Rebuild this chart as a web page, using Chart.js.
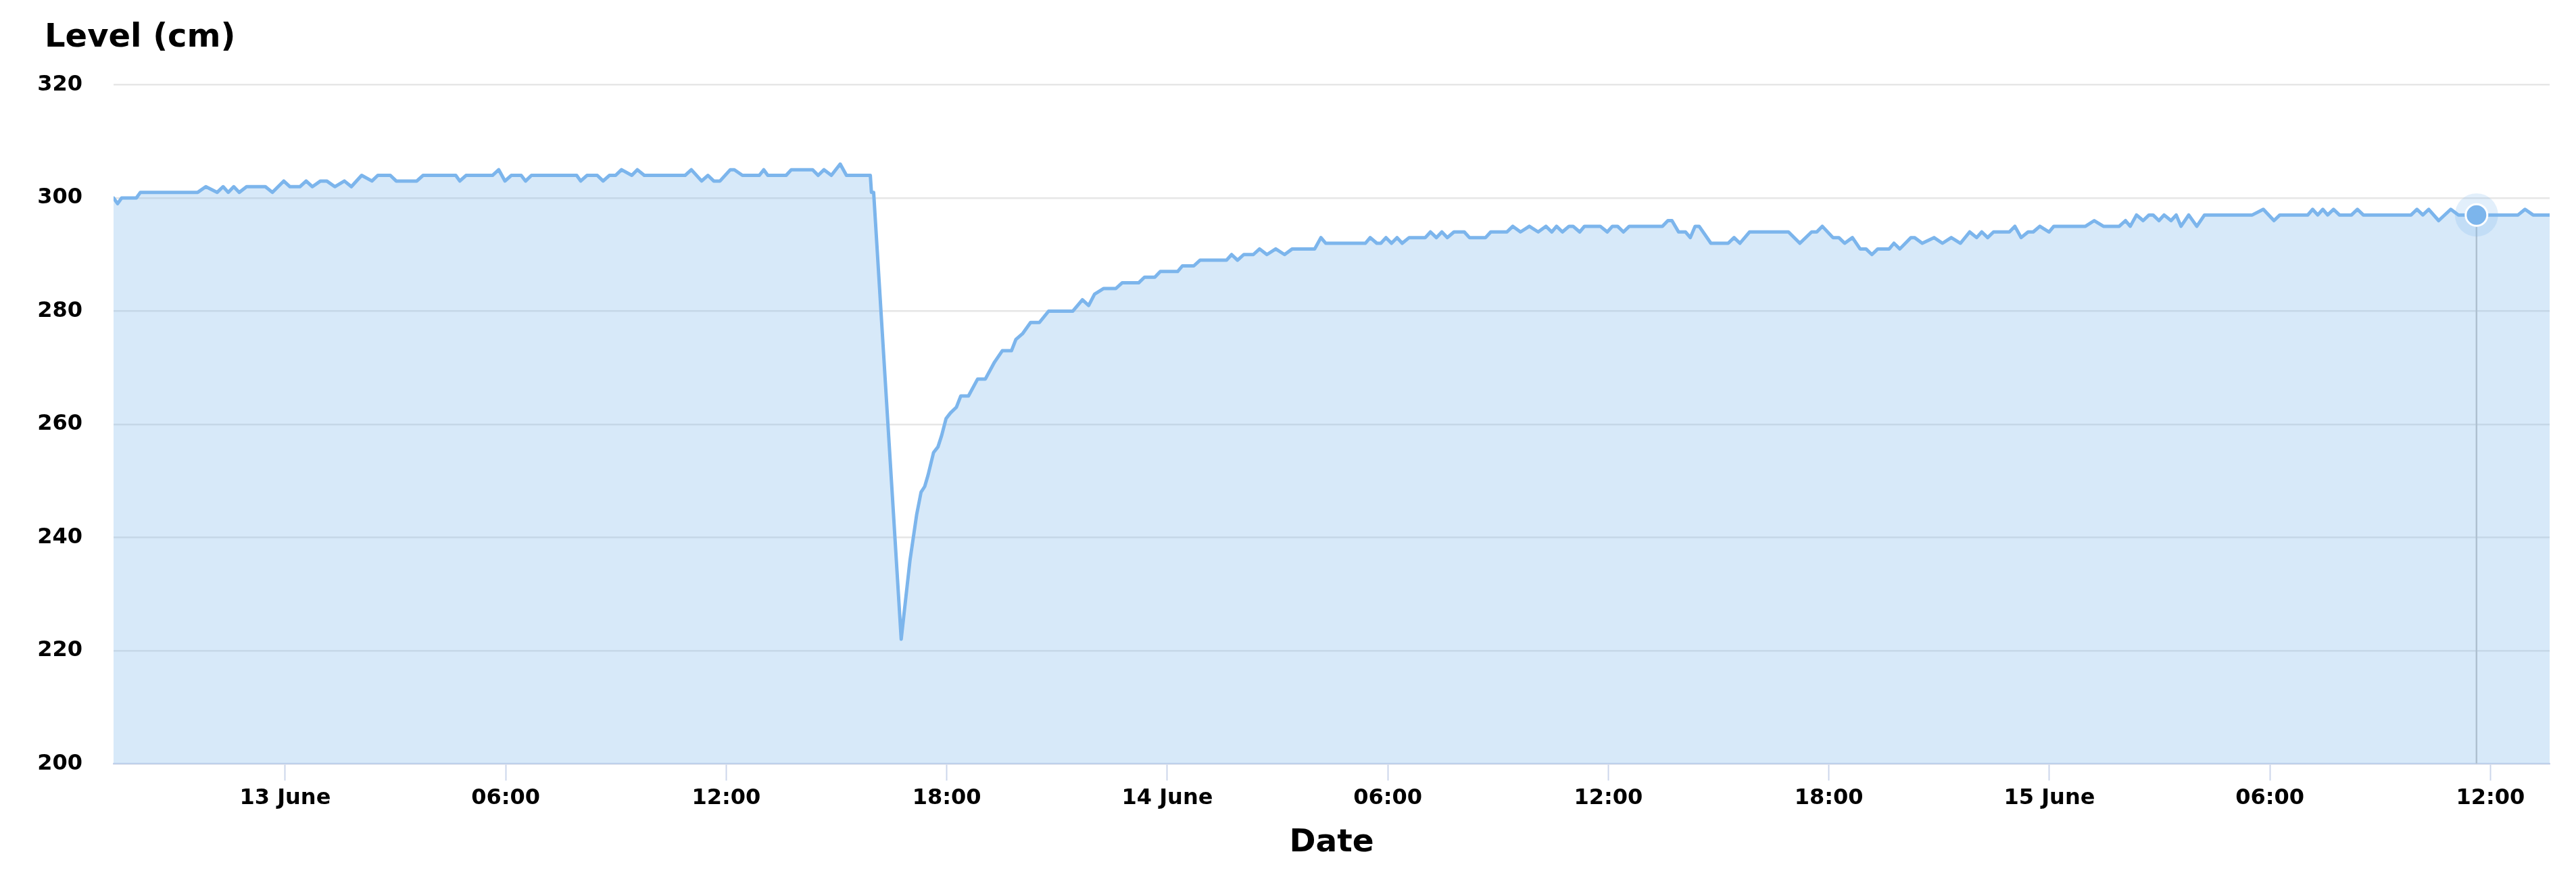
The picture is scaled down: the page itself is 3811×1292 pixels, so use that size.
<!DOCTYPE html>
<html>
<head>
<meta charset="utf-8">
<script src="https://cdn.jsdelivr.net/npm/chart.js@4.4.1/dist/chart.umd.min.js"></script>
<style>
  html, body { margin: 0; padding: 0; background: #ffffff; }
  #wrap { width: 3811px; height: 1292px; }
  canvas { display: block; }
</style>
</head>
<body>
<div id="wrap"><canvas id="chart" width="3811" height="1292" style="width:3811px;height:1292px"></canvas></div>
<script>
// Time in hours relative to 13 June 00:00
const hoursFrom13June = [
  -4.67,-4.56,-4.45,-4.05,-3.94,-2.38,-2.16,-1.85,-1.69,-1.55,-1.40,-1.25,-1.05,-0.54,-0.35,-0.04,
  0.13,0.40,0.57,0.74,0.96,1.13,1.35,1.61,1.80,2.08,2.36,2.52,2.86,3.02,3.58,3.75,4.64,4.75,4.92,
  5.64,5.81,5.98,6.15,6.42,6.54,6.70,7.93,8.04,8.21,8.49,8.65,8.82,8.99,9.15,9.43,9.58,9.77,
  10.88,11.05,11.33,11.50,11.66,11.83,12.11,12.22,12.44,12.90,13.02,13.13,13.63,13.77,14.35,14.50,
  14.66,14.86,15.10,15.27,15.92,15.95,16.01,
  16.76,17.00,17.18,17.30,17.40,17.49,17.64,17.76,17.86,17.98,18.10,18.26,18.38,18.59,18.84,19.05,
  19.30,19.51,19.76,19.88,20.06,20.28,20.52,20.77,21.43,21.69,21.86,22.02,22.27,22.60,22.77,23.22,
  23.38,23.66,23.81,24.28,24.41,24.72,24.89,25.61,25.75,25.91,26.08,26.34,26.51,26.71,26.95,27.19,
  27.40,28.01,28.18,28.31,29.39,29.52,29.70,29.81,29.95,30.10,30.25,30.39,30.58,31.02,31.16,31.32,
  31.47,31.62,31.80,32.08,32.22,32.66,32.80,33.24,33.40,33.61,33.85,34.09,34.30,34.46,34.59,34.75,
  34.93,35.04,35.22,35.35,35.78,35.97,36.11,36.25,36.41,36.57,37.47,37.62,37.73,37.91,38.10,38.23,
  38.36,38.47,38.79,39.26,39.42,39.58,39.84,40.90,41.21,41.53,41.67,41.82,42.11,42.27,42.43,42.64,
  42.85,43.01,43.17,43.33,43.64,43.77,43.93,44.23,44.33,44.54,44.86,45.09,45.33,45.58,45.83,46.02,
  46.16,46.32,46.48,46.91,47.06,47.23,47.42,47.56,47.74,47.99,48.12,48.98,49.22,49.47,49.90,50.07,
  50.20,50.37,50.55,50.71,50.82,50.98,51.12,51.31,51.45,51.58,51.79,52.01,52.22,53.52,53.82,54.11,
  54.27,55.03,55.16,55.30,55.44,55.57,55.73,55.89,56.22,56.38,56.54,57.84,58.00,58.16,58.32,58.59,
  58.92,59.13,59.62,60.10,60.75,60.94,61.16,61.61
];
// Water level in cm
const levelCm = [
  300,299,300,300,301,301,302,301,302,301,302,301,302,302,301,303,
  302,302,303,302,303,303,302,303,302,304,303,304,304,303,303,304,304,303,304,
  304,305,303,304,304,303,304,304,303,304,304,303,304,304,305,304,305,304,
  304,305,303,304,303,303,305,305,304,304,305,304,304,305,305,304,
  305,304,306,304,304,301,301,
  222,236,244,248,249,251,255,256,258,261,262,263,265,265,268,268,
  271,273,273,275,276,278,278,280,280,282,281,283,284,284,285,285,
  286,286,287,287,288,288,289,289,290,289,290,290,291,290,291,290,
  291,291,293,292,292,293,292,292,293,292,293,292,293,293,294,293,
  294,293,294,294,293,293,294,294,295,294,295,294,295,294,295,294,
  295,295,294,295,295,294,295,295,294,295,295,296,296,294,294,293,
  295,295,292,292,293,292,294,294,292,294,294,295,293,293,292,293,
  291,291,290,291,291,292,291,293,293,292,293,292,293,292,294,293,
  294,293,294,294,295,293,294,294,295,294,295,295,296,295,295,296,
  295,297,296,297,297,296,297,296,297,295,297,295,297,297,298,296,
  297,297,298,297,298,297,298,297,297,298,297,297,298,297,298,296,
  298,297,297,297,297,298,297,297
];
// Highlighted (hovered) reading
const highlightHour = [59.62];
const highlightLevel = [297];

// Axis ticks
const xTickHours = [0, 6, 12, 18, 24, 30, 36, 42, 48, 54, 60];
const xTickLabels = ['13 June', '06:00', '12:00', '18:00', '14 June', '06:00', '12:00', '18:00', '15 June', '06:00', '12:00'];
const yTickValues = [200, 220, 240, 260, 280, 300, 320];
const yTickLabels = ['200', '220', '240', '260', '280', '300', '320'];

const seriesPoints = hoursFrom13June.map((h, i) => ({ x: h, y: levelCm[i] }));
const highlightPoints = highlightHour.map((h, i) => ({ x: h, y: highlightLevel[i] }));

Chart.defaults.font.family = "'DejaVu Sans', 'Liberation Sans', sans-serif";
Chart.defaults.color = '#000000';

const crosshairPlugin = {
  id: 'crosshair',
  afterLayout(chart) {
    // place the axis heading above the tick-label column
    if (chart.titleBlock) {
      chart.titleBlock.left = chart.chartArea.left - 102;
    }
  },
  beforeDatasetsDraw(chart) {
    const meta = chart.getDatasetMeta(2);
    if (!meta || !meta.data.length) return;
    const pt = meta.data[0];
    const { ctx, chartArea } = chart;
    ctx.save();
    ctx.strokeStyle = '#c4c4c4';
    ctx.lineWidth = 2.4;
    ctx.beginPath();
    ctx.moveTo(pt.x, pt.y);
    ctx.lineTo(pt.x, chartArea.bottom);
    ctx.stroke();
    ctx.restore();
  }
};

new Chart(document.getElementById('chart'), {
  type: 'line',
  data: {
    datasets: [
      {
        label: 'Level',
        data: seriesPoints,
        borderColor: '#7cb5ec',
        borderWidth: 5,
        backgroundColor: 'rgba(124,181,236,0.30)',
        fill: 'start',
        tension: 0,
        pointRadius: 0,
        borderJoinStyle: 'round',
        borderCapStyle: 'round',
        order: 3
      },
      {
        label: 'halo',
        data: highlightPoints,
        showLine: false,
        pointRadius: 32,
        pointBackgroundColor: 'rgba(124,181,236,0.22)',
        pointBorderWidth: 0,
        pointBorderColor: 'rgba(0,0,0,0)',
        order: 2
      },
      {
        label: 'marker',
        data: highlightPoints,
        showLine: false,
        pointRadius: 16,
        pointBackgroundColor: '#7cb5ec',
        pointBorderColor: '#ffffff',
        pointBorderWidth: 3,
        order: 1
      }
    ]
  },
  options: {
    responsive: false,
    maintainAspectRatio: false,
    devicePixelRatio: 1,
    animation: false,
    events: [],
    layout: { padding: { left: 50, right: 39, top: 0, bottom: 16 } },
    plugins: {
      legend: { display: false },
      tooltip: { enabled: false },
      title: {
        display: true,
        text: 'Level (cm)',
        align: 'start',
        color: '#000000',
        font: { size: 48, weight: 'bold' },
        padding: { top: 28, bottom: 40 }
      }
    },
    scales: {
      x: {
        type: 'linear',
        min: hoursFrom13June[0],
        max: hoursFrom13June[hoursFrom13June.length - 1],
        afterBuildTicks(scale) {
          scale.ticks = xTickHours.map(v => ({ value: v }));
        },
        ticks: {
          autoSkip: false,
          maxRotation: 0,
          minRotation: 0,
          padding: 7,
          color: '#000000',
          font: { size: 32, weight: 'bold' },
          callback: (value, index) => xTickLabels[index]
        },
        grid: {
          drawOnChartArea: false,
          drawTicks: true,
          tickLength: 25,
          tickColor: '#ccd6eb',
          tickWidth: 2
        },
        border: { display: true, color: '#ccd6eb', width: 2.4 },
        title: {
          display: true,
          text: 'Date',
          color: '#000000',
          font: { size: 47, weight: 'bold' },
          padding: { top: 12, bottom: 0 }
        }
      },
      y: {
        type: 'linear',
        min: yTickValues[0],
        max: yTickValues[yTickValues.length - 1],
        afterBuildTicks(scale) {
          scale.ticks = yTickValues.map(v => ({ value: v }));
        },
        afterFit(scale) { scale.width = 118; },
        ticks: {
          padding: 46,
          color: '#000000',
          font: { size: 32, weight: 'bold' },
          callback: (value, index) => yTickLabels[index]
        },
        grid: {
          color: '#e6e6e6',
          lineWidth: 2.4,
          drawTicks: false,
          tickLength: 0
        },
        border: { display: false }
      }
    }
  },
  plugins: [crosshairPlugin]
});
</script>
</body>
</html>
